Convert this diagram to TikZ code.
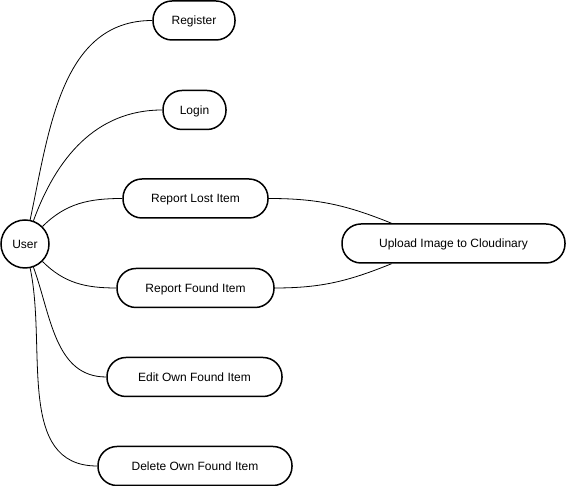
\documentclass[tikz,border=0pt]{standalone}
\usepackage{fontspec}
\setmainfont{Liberation Sans}
\usetikzlibrary{%
  shapes.misc,%
  positioning,%
  calc%
}

\begin{document}
\begin{tikzpicture}
[x=1pt, y=1pt, draw=black, line width=1.5pt,
actor/.style={circle, draw, inner sep=0pt, minimum size=48pt, text height=9pt, text depth=0.5pt, font=\fontsize{12}{14}\selectfont},
usecase/.style={rectangle, draw, rounded corners=19pt, inner sep=0pt, minimum height=39pt, text height=9pt, text depth=0.5pt, font=\fontsize{12}{14}\selectfont},
link/.style={line width=0.8pt}]

\useasboundingbox (0,0) rectangle (566,486);

\node[actor] (user) at (25,242) {User};

\node[usecase, minimum width=82pt] (reg) at (194,465.5) {Register};
\node[usecase, minimum width=63pt] (login) at (194.5,376) {Login};
\node[usecase, minimum width=145pt] (lost) at (195.5,287.5) {Report Lost Item};
\node[usecase, minimum width=157pt] (found) at (195.5,198) {Report Found Item};
\node[usecase, minimum width=175pt] (edit) at (194.5,109) {Edit Own Found Item};
\node[usecase, minimum width=194pt] (delete) at (195,20) {Delete Own Found Item};

\node[usecase, minimum width=223pt] (upload) at (453.5,242.5) {Upload Image to Cloudinary};

\coordinate (uptop) at ($(upload.north)+(-62,0)$);
\coordinate (upbot) at ($(upload.south)+(-62,0)$);

\draw[link] (user) to[out=78,in=180] (reg.west);
\draw[link] (user) to[out=70,in=180] (login.west);
\draw[link] (user) to[out=45,in=180] (lost.west);
\draw[link] (user) to[out=-45,in=180] (found.west);
\draw[link] (user) to[out=-70,in=180] (edit.west);
\draw[link] (user) to[out=-78,in=180] (delete.west);

\draw[link] (lost.east) to[out=0,in=158] (uptop);
\draw[link] (found.east) to[out=0,in=-158] (upbot);

\end{tikzpicture}
\end{document}
